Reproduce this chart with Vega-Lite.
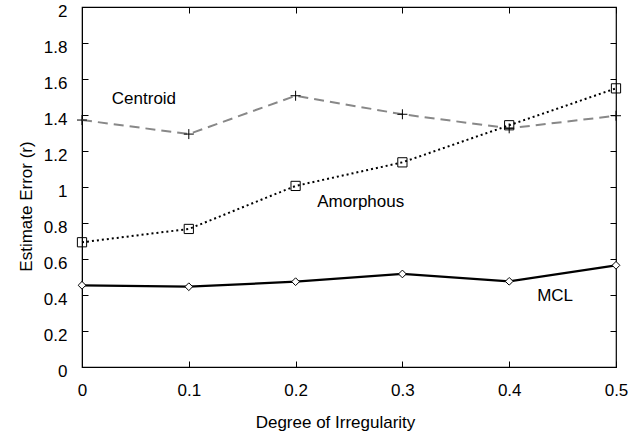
{
  "$schema": "https://vega.github.io/schema/vega-lite/v6.json",
  "width": 534,
  "height": 360,
  "autosize": {"type": "none"},
  "padding": {"left": 82, "top": 7, "right": 25, "bottom": 68},
  "background": "white",
  "config": {
    "view": {"stroke": "black", "strokeWidth": 1.2},
    "font": "Liberation Sans",
    "axis": {"grid": false, "domainColor": "black", "tickColor": "black", "labelColor": "black", "titleColor": "black", "labelFontSize": 17, "titleFontSize": 17, "titleFontWeight": "normal", "labelFont": "Liberation Sans", "titleFont": "Liberation Sans", "labelOverlap": false, "labelFlush": false, "tickSize": -6, "tickWidth": 1}
  },
  "datasets": {
    "series": [
      {"method": "Centroid", "x": 0, "y": 1.372},
      {"method": "Centroid", "x": 0.1, "y": 1.294},
      {"method": "Centroid", "x": 0.2, "y": 1.507},
      {"method": "Centroid", "x": 0.3, "y": 1.404},
      {"method": "Centroid", "x": 0.4, "y": 1.326},
      {"method": "Centroid", "x": 0.5, "y": 1.396},
      {"method": "Amorphous", "x": 0, "y": 0.693},
      {"method": "Amorphous", "x": 0.1, "y": 0.767},
      {"method": "Amorphous", "x": 0.2, "y": 1.006},
      {"method": "Amorphous", "x": 0.3, "y": 1.137},
      {"method": "Amorphous", "x": 0.4, "y": 1.343},
      {"method": "Amorphous", "x": 0.5, "y": 1.548},
      {"method": "MCL", "x": 0, "y": 0.454},
      {"method": "MCL", "x": 0.1, "y": 0.446},
      {"method": "MCL", "x": 0.2, "y": 0.474},
      {"method": "MCL", "x": 0.3, "y": 0.517},
      {"method": "MCL", "x": 0.4, "y": 0.476},
      {"method": "MCL", "x": 0.5, "y": 0.565}
    ],
    "labels": [
      {"label": "Centroid", "x": 0.058, "y": 1.489},
      {"label": "Amorphous", "x": 0.261, "y": 0.918},
      {"label": "MCL", "x": 0.443, "y": 0.394}
    ]
  },
  "layer": [
    {
      "data": {"name": "series"},
      "transform": [{"filter": "datum.method === 'Centroid'"}],
      "mark": {"type": "line", "color": "#888888", "strokeWidth": 2, "strokeDash": [10, 6]},
      "encoding": {
        "x": {"field": "x", "type": "quantitative", "scale": {"domain": [0, 0.5], "nice": false}, "axis": {"orient": "bottom", "values": [0, 0.1, 0.2, 0.3, 0.4, 0.5], "format": "~g", "labelPadding": 21, "title": "Degree of Irregularity", "titlePadding": 16, "titleX": 253}},
        "y": {"field": "y", "type": "quantitative", "scale": {"domain": [0, 2], "nice": false}, "axis": {"orient": "left", "values": [0, 0.2, 0.4, 0.6, 0.8, 1, 1.2, 1.4, 1.6, 1.8, 2], "format": "~g", "labelPadding": 21, "labelOffset": 4, "title": "Estimate Error (r)", "titlePadding": 8, "titleY": 199}}
      }
    },
    {
      "data": {"name": "series"},
      "transform": [{"filter": "datum.method === 'Amorphous'"}],
      "mark": {"type": "line", "color": "black", "strokeWidth": 2, "strokeDash": [2, 3]},
      "encoding": {
        "x": {"field": "x", "type": "quantitative", "axis": null},
        "y": {"field": "y", "type": "quantitative", "axis": null}
      }
    },
    {
      "data": {"name": "series"},
      "transform": [{"filter": "datum.method === 'MCL'"}],
      "mark": {"type": "line", "color": "black", "strokeWidth": 2.2},
      "encoding": {
        "x": {"field": "x", "type": "quantitative", "axis": null},
        "y": {"field": "y", "type": "quantitative", "axis": null}
      }
    },
    {
      "data": {"name": "series"},
      "transform": [{"filter": "datum.method === 'Centroid'"}],
      "mark": {"type": "point", "shape": "M-1,0L1,0M0,-1L0,1", "size": 100, "filled": false, "stroke": "black", "strokeWidth": 1, "opacity": 1},
      "encoding": {
        "x": {"field": "x", "type": "quantitative", "axis": null},
        "y": {"field": "y", "type": "quantitative", "axis": null}
      }
    },
    {
      "data": {"name": "series"},
      "transform": [{"filter": "datum.method === 'Amorphous'"}],
      "mark": {"type": "point", "shape": "square", "size": 85, "filled": false, "stroke": "black", "strokeWidth": 1, "opacity": 1},
      "encoding": {
        "x": {"field": "x", "type": "quantitative", "axis": null},
        "y": {"field": "y", "type": "quantitative", "axis": null}
      }
    },
    {
      "data": {"name": "series"},
      "transform": [{"filter": "datum.method === 'MCL'"}],
      "mark": {"type": "point", "shape": "diamond", "size": 60, "filled": true, "fill": "white", "stroke": "black", "strokeWidth": 1, "opacity": 1},
      "encoding": {
        "x": {"field": "x", "type": "quantitative", "axis": null},
        "y": {"field": "y", "type": "quantitative", "axis": null}
      }
    },
    {
      "data": {"name": "labels"},
      "mark": {"type": "text", "fontSize": 17, "color": "black", "font": "Liberation Sans"},
      "encoding": {
        "x": {"field": "x", "type": "quantitative", "axis": {"orient": "top", "values": [0, 0.1, 0.2, 0.3, 0.4, 0.5], "labels": false, "title": null, "domain": false}},
        "y": {"field": "y", "type": "quantitative", "axis": {"orient": "right", "values": [0, 0.2, 0.4, 0.6, 0.8, 1, 1.2, 1.4, 1.6, 1.8, 2], "labels": false, "title": null, "domain": false}},
        "text": {"field": "label"}
      }
    }
  ],
  "resolve": {"scale": {"x": "shared", "y": "shared"}, "axis": {"x": "independent", "y": "independent"}}
}
